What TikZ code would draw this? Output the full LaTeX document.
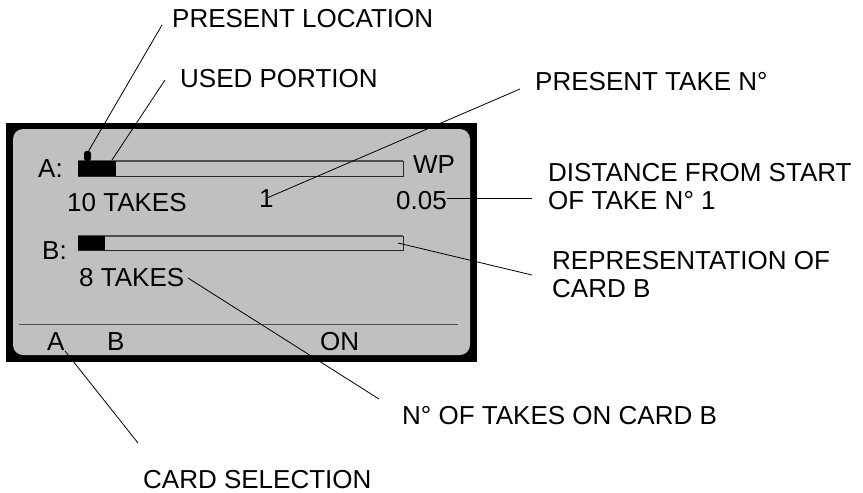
\documentclass[tikz,border=0pt]{standalone}
\usepackage{fontspec}
\setmainfont{Liberation Sans}
\definecolor{lcdgray}{HTML}{C0C0C0}
\definecolor{rulegray}{HTML}{505050}
\begin{document}
\begin{tikzpicture}[x=1pt,y=-1pt,
  txt/.style={anchor=base west,inner sep=0pt,font=\fontsize{26}{28}\selectfont},
  lbl/.style={txt,align=left},
  leader/.style={draw=black,line width=0.8pt},
  barframe/.style={draw=black!85,line width=0.7pt},
  bartop/.style={draw=rulegray,line width=1.6pt}]
\useasboundingbox (0,0) rectangle (863,493);

% display housing and screen
\fill[black] (6,123) rectangle (477,362);
\fill[lcdgray,rounded corners=10pt] (13,129) rectangle (470,355);

% card A bar
\draw[barframe] (78,161) rectangle (403,176);
\draw[bartop] (78,161) -- (403,161);
\fill[black] (78,161) rectangle (116,176);
\fill[black,rounded corners=2.5pt] (84,161) -- (84,151) -- (91,151) -- (91,161) -- cycle;
\coordinate (locmark) at (88,152);
\coordinate (usedend) at (112,160);

% card B bar
\draw[barframe] (78,236) rectangle (403,250);
\draw[bartop] (78,236) -- (403,236);
\fill[black] (78,236) rectangle (105,250);
\coordinate (barBend) at (398,243);

% soft-key separator
\draw[rulegray,line width=1.3pt] (19,324.3) -- (458,324.3);

% screen texts
\node[txt] (lA) at (38,177) {A:};
\node[txt] (wp) at (413,173) {WP};
\node[txt] (takesA) at (67,211) {10 TAKES};
\node[txt] (takeno) at (259,207) {1};
\node[txt] (dist) at (396,209) {0.05};
\node[txt] (lB) at (42,259) {B:};
\node[txt] (takesB) at (79,286) {8 TAKES};
\node[txt] (keyA) at (47,350.5) {A};
\node[txt] (keyB) at (107,350.5) {B};
\node[txt] (keyON) at (320,350.5) {ON};

% callout labels
\node[lbl] (presloc) at (172,27) {PRESENT LOCATION};
\node[lbl] (used) at (180,87) {USED PORTION};
\node[lbl] (prestake) at (535,90) {PRESENT TAKE N°};
\node[lbl] (distlbl) at (548,209) {DISTANCE FROM START\\OF TAKE N° 1};
\node[lbl] (replbl) at (552,297) {REPRESENTATION OF\\CARD B};
\node[lbl] (takeslbl) at (402,424) {N° OF TAKES ON CARD B};
\node[lbl] (cardsel) at (143,488) {CARD SELECTION};

% leader end points
\coordinate (presloc-e) at (162,25);
\coordinate (used-e) at (165,80);
\coordinate (prestake-e) at (520,89);
\coordinate (take-s) at (267,198);
\coordinate (dist-s) at (447,198.3);
\coordinate (dist-e) at (532,198.3);
\coordinate (rep-e) at (532,275);
\coordinate (takesB-s) at (188,278);
\coordinate (takeslbl-e) at (379,399);
\coordinate (keyA-s) at (65,351);
\coordinate (cardsel-e) at (138,443);

% leaders
\draw[leader] (locmark) -- (presloc-e);
\draw[leader] (usedend) -- (used-e);
\draw[leader] (take-s) -- (prestake-e);
\draw[leader] (dist-s) -- (dist-e);
\draw[leader] (barBend) -- (rep-e);
\draw[leader] (takesB-s) -- (takeslbl-e);
\draw[leader] (keyA-s) -- (cardsel-e);
\end{tikzpicture}
\end{document}
